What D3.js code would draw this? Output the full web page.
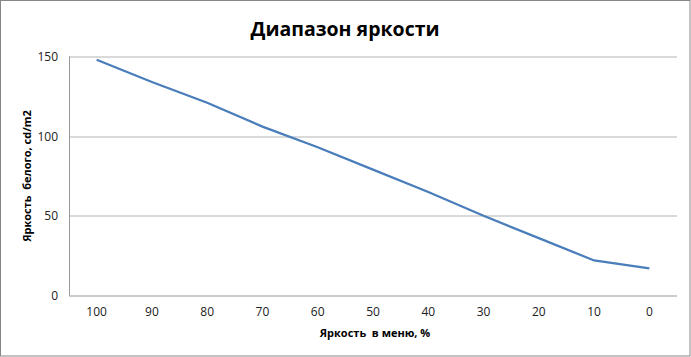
<!DOCTYPE html>
<html>
<head>
<meta charset="utf-8">
<script src="https://cdn.jsdelivr.net/npm/d3@7"></script>
<style>
  html, body { margin: 0; padding: 0; background: #fff; }
  svg { display: block; font-family: "Open Sans", "Liberation Sans", sans-serif; }
  .axis-title { white-space: pre; }
</style>
</head>
<body>
<svg id="chart" width="691" height="357"></svg>
<script>
// Data
const categories = ['100', '90', '80', '70', '60', '50', '40', '30', '20', '10', '0'];
const brightness = [148, 134, 121, 106, 93, 79, 65, 50, 36, 22, 17];
const yTicks = [0, 50, 100, 150];

const titleText = 'Диапазон яркости';
const xTitle = 'Яркость  в меню, %';
const yTitle = 'Яркость  белого, cd/m2';

const W = 691, H = 357;
const m = { top: 56.5, right: 14, bottom: 61.5, left: 69 };
const innerW = W - m.left - m.right;
const innerH = H - m.top - m.bottom;

const svg = d3.select('#chart');

// outer border
svg.append('rect')
  .attr('x', 0.5).attr('y', 0.5)
  .attr('width', W - 1.5).attr('height', H - 1.5)
  .attr('fill', '#fff').attr('stroke', '#868686');

svg.append('text')
  .attr('x', 345).attr('y', 36)
  .attr('text-anchor', 'middle')
  .attr('font-size', 19.5).attr('font-weight', 'bold')
  .attr('fill', '#000')
  .text(titleText);

const root = svg.append('g').attr('transform', `translate(${m.left},${m.top})`);

const x = d3.scaleBand().domain(categories).range([0, innerW]);
const y = d3.scaleLinear().domain([0, 150]).range([innerH, 0]);

// gridlines
root.append('g')
  .selectAll('line').data(yTicks.filter((d) => d > 0)).enter().append('line')
  .attr('x1', 0).attr('x2', innerW)
  .attr('y1', (d) => Math.round(y(d)) + 0.5).attr('y2', (d) => Math.round(y(d)) + 0.5)
  .attr('stroke', '#b3b3b3');

// axes
const yAxis = root.append('g')
  .call(d3.axisLeft(y).tickValues(yTicks).tickSize(0).tickPadding(11).tickSizeOuter(0));
yAxis.select('.domain').attr('stroke', '#999').attr('d', `M0.5,0V${innerH}`);
yAxis.selectAll('text').attr('font-size', 12).attr('fill', '#222')
  .attr('font-family', '"Open Sans", sans-serif');

const xAxis = root.append('g')
  .attr('transform', `translate(0,${innerH})`)
  .call(d3.axisBottom(x).tickSize(0).tickPadding(12).tickSizeOuter(0));
xAxis.select('.domain').attr('stroke', '#999').attr('d', `M0,0.5H${innerW}`);
xAxis.selectAll('text').attr('font-size', 12).attr('fill', '#222')
  .attr('font-family', '"Open Sans", sans-serif');

// series line
const line = d3.line()
  .x((d, i) => x(categories[i]) + x.bandwidth() / 2)
  .y((d) => y(d));
root.append('path')
  .datum(brightness)
  .attr('fill', 'none')
  .attr('stroke', '#4a7ebb')
  .attr('stroke-width', 2.25)
  .attr('d', line);

// axis titles
svg.append('text')
  .attr('class', 'axis-title')
  .attr('x', 375).attr('y', 337)
  .attr('text-anchor', 'middle')
  .attr('font-size', 11).attr('font-weight', 'bold')
  .attr('fill', '#000')
  .text(xTitle);

svg.append('text')
  .attr('class', 'axis-title')
  .attr('transform', 'translate(31,176) rotate(-90)')
  .attr('text-anchor', 'middle')
  .attr('font-size', 11).attr('font-weight', 'bold')
  .attr('fill', '#000')
  .text(yTitle);
</script>
</body>
</html>
